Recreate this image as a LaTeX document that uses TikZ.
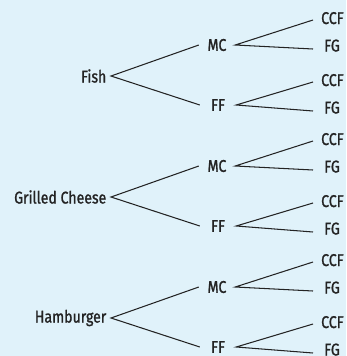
\documentclass[tikz,border=0pt]{standalone}
\usepackage{fontspec}
\setmainfont{Fira Sans}[FakeStretch=0.83,FakeBold=1.2]
\definecolor{bg}{RGB}{224,242,250}
\definecolor{ink}{RGB}{35,35,35}
\begin{document}
\begin{tikzpicture}[x=1pt,y=-1pt,
  every node/.style={font=\fontsize{17}{19}\selectfont, text=ink, inner ysep=0pt},
  rootnode/.style={anchor=east, inner xsep=4.5pt},
  midnode/.style={minimum width=36pt, inner xsep=0pt},
  leafnode/.style={anchor=west, inner xsep=0pt, text width=28pt, align=left, text height=12pt, text depth=4pt},
  lowleaf/.style={leafnode, text depth=7pt},
  branch/.style={draw=ink, line width=1.05pt}]
\fill[bg] (0,0) rectangle (346,356);
\useasboundingbox (0,0) rectangle (346,356);
\foreach \g/\name/\lab in {0/fish/Fish, 121/cheese/Grilled Cheese, 242/burger/Hamburger}{
  \node[rootnode] (\name) at (111,76+\g) {\lab};
  \node[midnode] (\name mc) at (217,45+\g) {MC};
  \node[midnode] (\name ff) at (218,105+\g) {FF};
  \node[leafnode] (\name mcc) at (313,20+\g) {\hspace*{8pt}CCF};
  \node[lowleaf] (\name mcf) at (313,49+\g) {\hspace*{11pt}FG};
  \node[leafnode] (\name fcc) at (313,82+\g) {\hspace*{8pt}CCF};
  \node[lowleaf] (\name fcf) at (313,111+\g) {\hspace*{11pt}FG};
  \draw[branch] (\name mc.west) -- (\name.east) -- (\name ff.west);
  \draw[branch] (\name mcc.west) -- (\name mc.east) -- (\name mcf.west);
  \draw[branch] (\name fcc.west) -- (\name ff.east) -- (\name fcf.west);
}
\end{tikzpicture}
\end{document}
